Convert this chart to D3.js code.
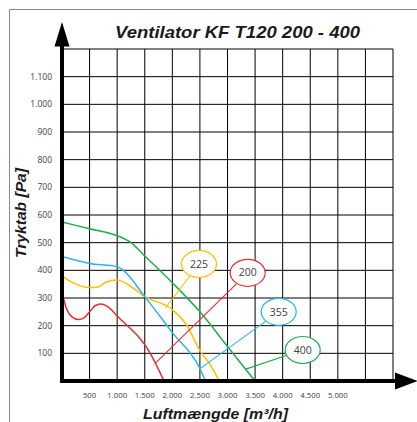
<!DOCTYPE html>
<html><head><meta charset="utf-8">
<script src="https://cdn.jsdelivr.net/npm/d3@7"></script>
<style>body{margin:0;background:#fff}svg{display:block}</style>
</head><body>
<svg id="c" width="417" height="422"></svg>
<script>
// ---- data ----
const title = "Ventilator KF T120 200 - 400";
const xTitle = "Luftmængde [m³/h]";
const yTitle = "Tryktab [Pa]";
const xTickValues = [500,1000,1500,2000,2500,3000,3500,4000,4500,5000];
const xTickLabels = ["500","1.000","1.500","2.000","2.500","3.000","3.500","4.000","4.500","5.000"];
const yTickValues = [100,200,300,400,500,600,700,800,900,1000,1100];
const yTickLabels = ["100","200","300","400","500","600","700","800","900","1.000","1.100"];
const seriesNames = ["200","225","355","400"];
const series200 = [[0,320],[80,262],[180,232],[300,222],[400,228],[500,250],[600,272],[700,278],[820,270],[1000,235],[1600,100],[1850,0]];
const series225 = [[0,380],[250,350],[500,338],[650,340],[800,358],[1000,365],[1200,348],[1500,305],[2000,258],[2250,205],[2500,110],[2700,55],[2850,0]];
const series355 = [[0,450],[500,425],[1000,413],[1100,402],[1500,305],[2000,175],[2500,45],[2600,0]];
const series400 = [[0,575],[500,550],[1000,525],[1250,500],[1500,452],[2000,355],[2500,250],[3000,125],[3500,0]];
const calloutCenters = [[3366,391],[2483,423],[3928,250],[4363,112]];
const calloutAnchors = [[1690,64],[1870,263],[2483,42],[3317,42]];
const colors = ["#EE2B2B","#FFC000","#29B5EC","#1FAE4E"];

// ---- drawing ----
const svg = d3.select("#c");
const x = d3.scaleLinear().domain([0,6000]).range([62,393]);
const y = d3.scaleLinear().domain([0,1200]).range([381,49]);

svg.append("rect").attr("width",417).attr("height",422).attr("fill","#fff");
// frame
svg.append("path").attr("d","M9.5,422 V9.5 H417").attr("fill","none").attr("stroke","#8a8a8a").attr("stroke-width",1);

// grid
const g = svg.append("g");
g.selectAll("line.v").data(d3.range(500,6001,500)).join("line")
  .attr("x1",d=>x(d)).attr("x2",d=>x(d)).attr("y1",y(0)).attr("y2",y(1200))
  .attr("stroke","#000").attr("stroke-width",1);
g.selectAll("line.h").data(d3.range(100,1201,100)).join("line")
  .attr("y1",d=>y(d)).attr("y2",d=>y(d)).attr("x1",x(0)).attr("x2",x(6000))
  .attr("stroke","#000").attr("stroke-width",1);

// curves
const line = d3.line().x(d=>x(d[0])).y(d=>y(d[1])).curve(d3.curveMonotoneX);
const allSeries = [series200, series225, series355, series400];
allSeries.forEach((s,i)=>{
  svg.append("path").attr("d",line(s)).attr("fill","none")
    .attr("stroke",colors[i]).attr("stroke-width",1.5);
});

// callouts
seriesNames.forEach((name,i)=>{
  const c = calloutCenters[i], a = calloutAnchors[i];
  svg.append("line").attr("x1",x(c[0])).attr("y1",y(c[1])).attr("x2",x(a[0])).attr("y2",y(a[1]))
    .attr("stroke",colors[i]).attr("stroke-width",1.1);
});
seriesNames.forEach((name,i)=>{
  const c = calloutCenters[i];
  svg.append("ellipse").attr("cx",x(c[0])).attr("cy",y(c[1])).attr("rx",17.5).attr("ry",13.5)
    .attr("fill","#fff").attr("stroke",colors[i]).attr("stroke-width",1.2);
  svg.append("text").attr("x",x(c[0])).attr("y",y(c[1])).attr("dy","0.35em")
    .attr("text-anchor","middle").attr("font-family","'Open Sans', sans-serif")
    .attr("font-size",10.5).attr("fill","#404040").text(name);
});

// axes
svg.append("line").attr("x1",x(0)-0.5).attr("x2",396).attr("y1",y(0)).attr("y2",y(0))
  .attr("stroke","#000").attr("stroke-width",4);
svg.append("line").attr("x1",x(0)).attr("x2",x(0)).attr("y1",y(0)+2).attr("y2",45)
  .attr("stroke","#000").attr("stroke-width",4);
svg.append("path").attr("d",`M395,${y(0)-8.5} L418,${y(0)} L395,${y(0)+8.5}Z`).attr("fill","#000");
svg.append("path").attr("d",`M${x(0)-7.5},46.5 L${x(0)},22 L${x(0)+7.5},46.5Z`).attr("fill","#000");

// tick labels
svg.selectAll("text.xt").data(xTickValues).join("text")
  .attr("x",d=>x(d)).attr("y",398).attr("text-anchor","middle")
  .attr("font-family","'Open Sans', sans-serif").attr("font-size",7.8).attr("fill","#404040")
  .text((d,i)=>xTickLabels[i]);
svg.selectAll("text.yt").data(yTickValues).join("text")
  .attr("x",52).attr("y",d=>y(d)).attr("dy","0.35em").attr("text-anchor","end")
  .attr("font-family","'Open Sans', sans-serif").attr("font-size",8.5).attr("fill","#404040")
  .text((d,i)=>yTickLabels[i]);

// titles
svg.append("text").attr("x",237.5).attr("y",37.5).attr("text-anchor","middle")
  .attr("font-family","Arial, 'Liberation Sans', sans-serif").attr("font-weight","bold").attr("font-style","italic")
  .attr("font-size",16.5).attr("textLength",245).attr("lengthAdjust","spacingAndGlyphs")
  .attr("fill","#1a1a1a").text(title);
svg.append("text").attr("x",215.5).attr("y",419).attr("text-anchor","middle")
  .attr("font-family","Arial, 'Liberation Sans', sans-serif").attr("font-weight","bold").attr("font-style","italic")
  .attr("font-size",15).attr("textLength",145).attr("lengthAdjust","spacingAndGlyphs")
  .attr("fill","#1a1a1a").text(xTitle);
svg.append("text").attr("transform","translate(26,213) rotate(-90)").attr("text-anchor","middle")
  .attr("font-family","Arial, 'Liberation Sans', sans-serif").attr("font-weight","bold").attr("font-style","italic")
  .attr("font-size",15).attr("textLength",90).attr("lengthAdjust","spacingAndGlyphs")
  .attr("fill","#1a1a1a").text(yTitle);
</script>
</body></html>
